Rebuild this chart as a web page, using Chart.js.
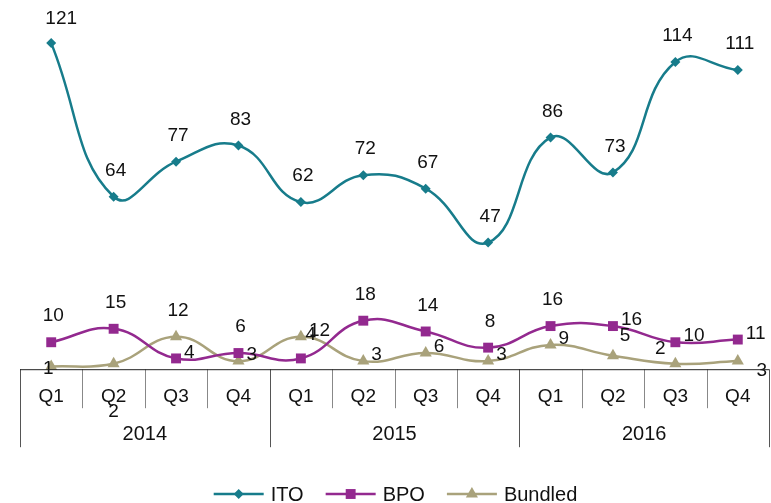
<!DOCTYPE html>
<html>
<head>
<meta charset="utf-8">
<script src="https://cdn.jsdelivr.net/npm/chart.js@4"></script>
<style>
  html, body { margin: 0; padding: 0; background: #fff; }
  #wrap { width: 771px; height: 503px; position: relative; }
</style>
</head>
<body>
<div id="wrap"><canvas id="chart"></canvas></div>
<script>
// Data
const quarters = ['Q1', 'Q2', 'Q3', 'Q4', 'Q1', 'Q2', 'Q3', 'Q4', 'Q1', 'Q2', 'Q3', 'Q4'];
const years = ['2014', '2015', '2016'];
const itoValues = [121, 64, 77, 83, 62, 72, 67, 47, 86, 73, 114, 111];
const bpoValues = [10, 15, 4, 6, 4, 18, 14, 8, 16, 16, 10, 11];
const bundledValues = [1, 2, 12, 3, 12, 3, 6, 3, 9, 5, 2, 3];

// where each value label sits relative to its point
const itoLabelPos = ['ar', 'a', 'a', 'a', 'a', 'a', 'a', 'a', 'a', 'a', 'a', 'a'];
const bpoLabelPos = ['a', 'a', 'r', 'a', 'ar', 'a', 'a', 'a', 'a', 'r', 'r', 'r'];
const bundledLabelPos = ['l', 'b', 'a', 'r', 'r', 'r', 'r', 'r', 'r', 'ur', 'ul', 'dr'];

const FONT = '"Liberation Sans", Arial, sans-serif';
const colors = { ito: '#177C8B', bpo: '#93298F', bundled: '#A9A27B' };

const labelPlugin = {
    id: 'valueLabels',
    afterDatasetsDraw(chart) {
        const ctx = chart.ctx;
        const posSets = [itoLabelPos, bpoLabelPos, bundledLabelPos];
        ctx.save();
        ctx.font = '19px ' + FONT;
        ctx.fillStyle = '#111';
        ctx.textBaseline = 'middle';
        chart.data.datasets.forEach((ds, di) => {
            const meta = chart.getDatasetMeta(di);
            meta.data.forEach((pt, i) => {
                const pos = posSets[di][i];
                let dx = 0, dy = 0, align = 'center';
                if (pos === 'a') { dx = 2; dy = -26; }
                else if (pos === 'ar') { dx = 10; dy = -24; }
                else if (pos === 'r') { dx = 8; dy = -6; align = 'left'; }
                else if (pos === 'l') { dx = -3; dy = 2; }
                else if (pos === 'b') { dy = 48; }
                else if (pos === 'ur') { dx = 12; dy = -20; }
                else if (pos === 'ul') { dx = -15; dy = -15; }
                else if (pos === 'dr') { dx = 24; dy = 10; }
                ctx.textAlign = align;
                ctx.fillText(String(ds.data[i]), pt.x + dx, pt.y + dy);
            });
        });
        ctx.restore();
    }
};

const axisGroupPlugin = {
    id: 'axisGroups',
    afterDraw(chart) {
        const ctx = chart.ctx;
        const x = chart.scales.x;
        const bottom = chart.chartArea.bottom;
        const step = x.getPixelForValue(1) - x.getPixelForValue(0);
        const start = x.getPixelForValue(0) - step / 2;
        ctx.save();
        ctx.lineWidth = 1;
        for (let i = 0; i <= quarters.length; i++) {
            const px = Math.round(start + i * step) + 0.5;
            const isYear = i % 4 === 0;
            ctx.strokeStyle = isYear ? '#555' : '#888';
            ctx.beginPath();
            ctx.moveTo(px, bottom);
            ctx.lineTo(px, bottom + (isYear ? 78 : 39));
            ctx.stroke();
        }
        ctx.beginPath();
        ctx.strokeStyle = '#222';
        ctx.moveTo(start, bottom + 0.5);
        ctx.lineTo(start + quarters.length * step, bottom + 0.5);
        ctx.stroke();

        // year group labels centred under each block of four quarters
        ctx.font = '20px ' + FONT;
        ctx.fillStyle = '#111';
        ctx.textAlign = 'center';
        ctx.textBaseline = 'middle';
        years.forEach((yr, k) => {
            ctx.fillText(yr, start + (k * 4 + 2) * step, bottom + 65);
        });

        // legend: line + marker + name
        const items = [
            { name: 'ITO', color: colors.ito, style: 'rectRot', r: 5 },
            { name: 'BPO', color: colors.bpo, style: 'rect', r: 7 },
            { name: 'Bundled', color: colors.bundled, style: 'triangle', r: 7 }
        ];
        ctx.textAlign = 'left';
        const lineLen = 50, gapAfterLine = 7, gapItems = 22;
        let total = 0;
        items.forEach(it => { total += lineLen + gapAfterLine + ctx.measureText(it.name).width; });
        total += gapItems * (items.length - 1);
        let lx = (chart.width - total) / 2 + 10;
        const ly = 494;
        items.forEach(it => {
            ctx.strokeStyle = it.color;
            ctx.lineWidth = 2.5;
            ctx.beginPath();
            ctx.moveTo(lx, ly);
            ctx.lineTo(lx + lineLen, ly);
            ctx.stroke();
            ctx.fillStyle = it.color;
            Chart.helpers.drawPoint(ctx, { pointStyle: it.style, radius: it.r, borderWidth: 0 }, lx + lineLen / 2, ly);
            ctx.fillStyle = '#111';
            ctx.fillText(it.name, lx + lineLen + gapAfterLine, ly + 1);
            lx += lineLen + gapAfterLine + ctx.measureText(it.name).width + gapItems;
        });
        ctx.restore();
    }
};

function lineSet(label, data, color, style, radius) {
    return {
        label: label,
        data: data,
        borderColor: color,
        backgroundColor: color,
        borderWidth: 2.5,
        pointStyle: style,
        pointRadius: radius,
        pointBorderWidth: 0,
        tension: 0.45,
        fill: false,
        clip: false
    };
}

new Chart(document.getElementById('chart'), {
    type: 'line',
    data: {
        labels: quarters,
        datasets: [
            lineSet('ITO', itoValues, colors.ito, 'rectRot', 5),
            lineSet('BPO', bpoValues, colors.bpo, 'rect', 7),
            lineSet('Bundled', bundledValues, colors.bundled, 'triangle', 7)
        ]
    },
    options: {
        responsive: true,
        maintainAspectRatio: false,
        animation: false,
        layout: { autoPadding: false, padding: { top: 0, left: 20, right: 2, bottom: 87 } },
        plugins: {
            legend: { display: false },
            tooltip: { enabled: false }
        },
        scales: {
            x: {
                offset: true,
                grid: { display: false },
                border: { display: false },
                ticks: { color: '#111', font: { family: FONT, size: 19 }, padding: 8, maxRotation: 0, autoSkip: false }
            },
            y: {
                display: false,
                min: 0,
                max: 137
            }
        }
    },
    plugins: [labelPlugin, axisGroupPlugin]
});
</script>
</body>
</html>
